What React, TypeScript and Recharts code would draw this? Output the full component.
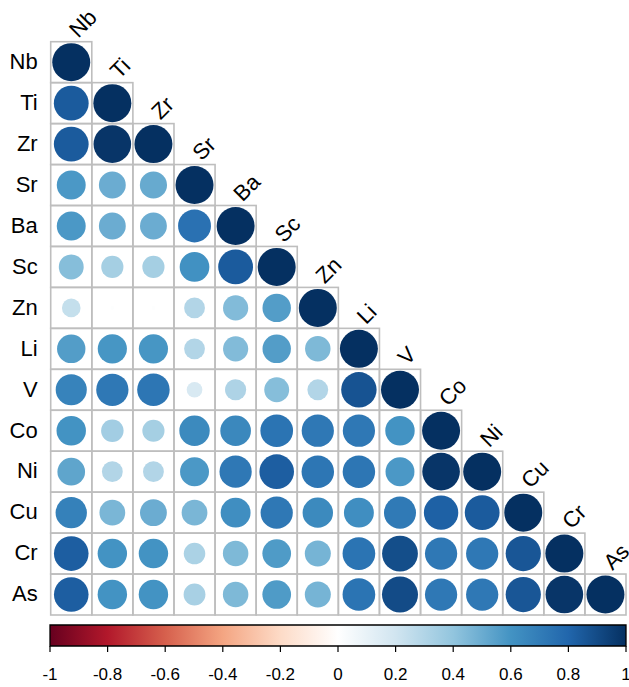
import React from 'react';
import { ScatterChart, Scatter, XAxis, YAxis, ZAxis, ComposedChart, Line, ReferenceArea } from 'recharts';

// ---- data ----
const variables = ['Nb', 'Ti', 'Zr', 'Sr', 'Ba', 'Sc', 'Zn', 'Li', 'V', 'Co', 'Ni', 'Cu', 'Cr', 'As'];

const rowNb = [1.0];
const rowTi = [0.84, 1.0];
const rowZr = [0.84, 0.98, 1.0];
const rowSr = [0.58, 0.5, 0.51, 1.0];
const rowBa = [0.58, 0.5, 0.5, 0.75, 1.0];
const rowSc = [0.43, 0.34, 0.34, 0.61, 0.84, 1.0];
const rowZn = [0.24, 0.01, 0.01, 0.3, 0.44, 0.56, 1.0];
const rowLi = [0.56, 0.59, 0.59, 0.3, 0.44, 0.56, 0.45, 1.0];
const rowV = [0.67, 0.72, 0.73, 0.17, 0.31, 0.43, 0.3, 0.87, 1.0];
const rowCo = [0.6, 0.35, 0.34, 0.64, 0.65, 0.74, 0.72, 0.72, 0.6, 1.0];
const rowNi = [0.53, 0.3, 0.3, 0.58, 0.72, 0.83, 0.73, 0.73, 0.58, 0.98, 1.0];
const rowCu = [0.68, 0.46, 0.5, 0.46, 0.62, 0.72, 0.64, 0.62, 0.71, 0.82, 0.84, 1.0];
const rowCr = [0.83, 0.6, 0.6, 0.32, 0.45, 0.57, 0.47, 0.74, 0.89, 0.72, 0.72, 0.86, 1.0];
const rowAs = [0.83, 0.6, 0.6, 0.33, 0.45, 0.57, 0.47, 0.74, 0.9, 0.72, 0.72, 0.86, 0.98, 1.0];

const correlationRows = [rowNb, rowTi, rowZr, rowSr, rowBa, rowSc, rowZn, rowLi, rowV, rowCo, rowNi, rowCu, rowCr, rowAs];

const legendTicks = [-1, -0.8, -0.6, -0.4, -0.2, 0, 0.2, 0.4, 0.6, 0.8, 1];

const paletteRdBu = ['#67001F', '#B2182B', '#D6604D', '#F4A582', '#FDDBC7', '#FFFFFF', '#D1E5F0', '#92C5DE', '#4393C3', '#2166AC', '#053061'];

// ---- layout / style ----
const W = 629;
const H = 687;
const FONT = '"Liberation Sans", Arial, Helvetica, sans-serif';
const PLOT_LEFT = 50.7;
const PLOT_RIGHT = 626;
const PLOT_TOP = 41.7;
const PLOT_BOTTOM = 615;
const MAIN_H = 620;
const N = variables.length;
const CELL_W = (PLOT_RIGHT - PLOT_LEFT) / N;
const CELL_H = (PLOT_BOTTOM - PLOT_TOP) / N;
const MAX_R = 19;

function hexToRgb(h: string): number[] {
  const s = h.replace('#', '');
  return [0, 2, 4].map((i) => parseInt(s.slice(i, i + 2), 16));
}

function corrColor(r: number): string {
  const t = ((Math.max(-1, Math.min(1, r)) + 1) / 2) * (paletteRdBu.length - 1);
  const i = Math.min(Math.floor(t), paletteRdBu.length - 2);
  const f = t - i;
  const a = hexToRgb(paletteRdBu[i]);
  const b = hexToRgb(paletteRdBu[i + 1]);
  const c = a.map((v, k) => Math.round(v + (b[k] - v) * f));
  return `rgb(${c[0]},${c[1]},${c[2]})`;
}

const cells = correlationRows.flatMap((vals, i) =>
  vals.map((r, j) => ({ col: j, row: i, r, size: Math.abs(r), diag: i === j, label: variables[j] }))
);

const legendData = legendTicks.map((v) => ({ v, mid: 0.5 }));

const CellShape = (props: any) => {
  const { cx, cy, payload } = props;
  if (typeof cx !== 'number' || typeof cy !== 'number') return null;
  const radius = typeof props.width === 'number' && props.width > 0 ? props.width / 2 : MAX_R * Math.sqrt(payload.size);
  const top = cy - CELL_H / 2;
  return (
    <g>
      <rect x={cx - CELL_W / 2} y={top} width={CELL_W} height={CELL_H} fill="none" stroke="#bebebe" strokeWidth={1.6} />
      {radius > 0.3 && <circle cx={cx} cy={cy} r={radius} fill={corrColor(payload.r)} />}
      {payload.diag && (
        <text
          transform={`translate(${cx + 7}, ${top - 3}) rotate(-45)`}
          fontSize={22}
          fontFamily={FONT}
          fill="#000"
          textAnchor="start"
        >
          {payload.label}
        </text>
      )}
    </g>
  );
};

export default function App() {
  return (
    <div style={{ position: 'absolute', left: 0, top: 0, width: W, height: H, background: '#fff' }}>
      <div style={{ position: 'absolute', left: 0, top: 0 }}>
        <ScatterChart
          width={W}
          height={MAIN_H}
          margin={{ top: PLOT_TOP, right: W - PLOT_RIGHT, bottom: MAIN_H - PLOT_BOTTOM, left: 0 }}
        >
          <XAxis type="number" dataKey="col" domain={[-0.5, N - 0.5]} hide />
          <YAxis
            type="number"
            dataKey="row"
            domain={[-0.5, N - 0.5]}
            reversed
            ticks={variables.map((_, i) => i)}
            interval={0}
            tickFormatter={(v: number) => variables[v] ?? ''}
            width={PLOT_LEFT}
            axisLine={false}
            tickLine={false}
            tickSize={6}
            tickMargin={7}
            tick={{ fontSize: 22, fill: '#000', fontFamily: FONT, dy: -1 }}
          />
          <ZAxis type="number" dataKey="size" domain={[0, 1]} range={[0, Math.PI * MAX_R * MAX_R]} />
          <Scatter data={cells} isAnimationActive={false} shape={(p: any) => <CellShape {...p} />} />
        </ScatterChart>
      </div>
      <div style={{ position: 'absolute', left: 0, top: 0 }}>
        <ComposedChart width={W} height={H} data={legendData} margin={{ top: 625, right: 3, bottom: 0, left: 50 }}>
          <defs>
            <linearGradient id="rdbuGrad" x1="0" y1="0" x2="1" y2="0">
              {paletteRdBu.map((c, i) => (
                <stop key={c + i} offset={`${(i * 100) / (paletteRdBu.length - 1)}%`} stopColor={c} />
              ))}
            </linearGradient>
          </defs>
          <XAxis
            type="number"
            dataKey="v"
            domain={[-1, 1]}
            ticks={legendTicks}
            interval={0}
            height={41}
            axisLine={false}
            tickSize={6}
            tickMargin={16}
            tickLine={{ stroke: '#000', strokeWidth: 1.2 }}
            tick={{ fontSize: 17, fill: '#000', fontFamily: FONT }}
            tickFormatter={(v: number) => String(v)}
          />
          <YAxis type="number" dataKey="mid" domain={[0, 1]} hide />
          <Line dataKey="mid" stroke="none" dot={false} activeDot={false} isAnimationActive={false} />
          <ReferenceArea
            x1={-1}
            x2={1}
            fill="url(#rdbuGrad)"
            fillOpacity={1}
            stroke="#000"
            strokeWidth={1.3}
            ifOverflow="visible"
          />
        </ComposedChart>
      </div>
    </div>
  );
}
